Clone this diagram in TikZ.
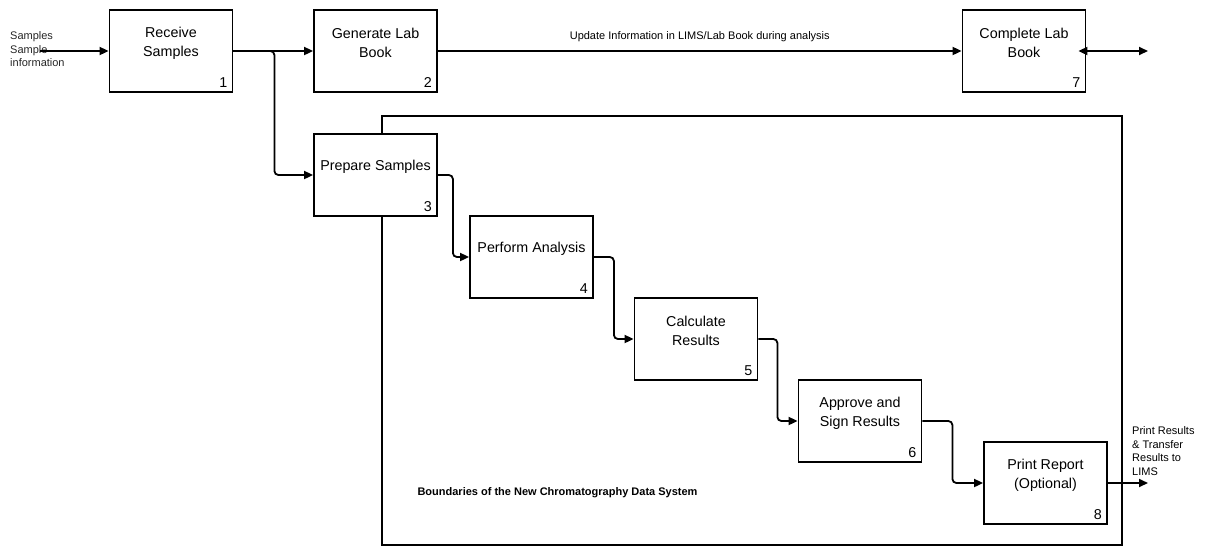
\documentclass[tikz,border=0pt]{standalone}
\usepackage{fontspec}
\setmainfont{Liberation Sans}
\usetikzlibrary{arrows.meta,positioning,calc}
\begin{document}
\begin{tikzpicture}[x=1pt,y=-1pt,
  proc/.style={draw,line width=1.8pt,minimum width=123pt,minimum height=82pt,inner sep=0pt},
  conn/.style={line width=1.8pt,rounded corners=4pt,-{Triangle[length=9pt,width=8pt]}},
  boxtxt/.style={font=\fontsize{14.3}{18.5}\selectfont,align=center},
  small/.style={font=\fontsize{11}{13.5}\selectfont}
]
\useasboundingbox (0,0) rectangle (1207,547);
% boundary
\draw[line width=1.6pt] (382,116) rectangle (1122,545);
\node[small,font=\fontsize{11}{13.5}\selectfont\bfseries,anchor=west] (blabel) at (414,493) {Boundaries of the New Chromatography Data System};
% boxes
\newcommand{\procbox}[5]{%
  \node[proc,fill=white] (#1) at (#2) {};
  \node[boxtxt] (#1t) at ($(#1.north)+(0,34)$) {#3};
  \node[boxtxt,anchor=south east,inner sep=0pt] (#1n) at ($(#1.south east)+(-6,-5)$) {#4};
}
\procbox{b1}{171,51}{Receive\\Samples}{1}{}
\procbox{b2}{375.5,51}{Generate Lab\\Book}{2}{}
\procbox{b7}{1024,51}{Complete Lab\\Book}{7}{}
\procbox{b3}{375.5,175}{Prepare Samples}{3}{}
\procbox{b4}{531.5,257}{Perform Analysis}{4}{}
\procbox{b5}{696,339}{Calculate\\Results}{5}{}
\procbox{b6}{860,421}{Approve and\\Sign Results}{6}{}
\procbox{b8}{1045.5,483}{Print Report\\(Optional)}{8}{}
% input
\node[small,align=left,anchor=north west,inner sep=0pt,text=black!85] (intxt) at (10,31.5) {Samples\\Sample\\information};
\coordinate (inp) at (40,51);
\draw[conn] (inp) -- (b1.west);
% top connectors
\draw[conn] (b1.east) -- (b2.west);
\draw[conn] (b1.east) -- ++(41,0) |- (b3.west);
\draw[conn] (b2.east) -- node[small,above=5pt] (upd) {Update Information in LIMS/Lab Book during analysis} (b7.west);
\coordinate (out7) at (1148,51);
\draw[line width=1.8pt,{Triangle[length=9pt,width=8pt]}-{Triangle[length=9pt,width=8pt]}] ([xshift=-8pt]b7.east) -- (out7);
% cascade
\draw[conn] (b3.east) -- ++(15,0) |- (b4.west);
\draw[conn] (b4.east) -- ++(20,0) |- (b5.west);
\draw[conn] (b5.east) -- ++(19,0) |- (b6.west);
\draw[conn] (b6.east) -- ++(30,0) |- (b8.west);
\coordinate (out8) at (1148,483);
\draw[conn] (b8.east) -- (out8);
\node[small,align=left,anchor=north west,inner sep=0pt] (outtxt) at (1132,426.5) {Print Results\\\& Transfer\\Results to\\LIMS};
\end{tikzpicture}
\end{document}
